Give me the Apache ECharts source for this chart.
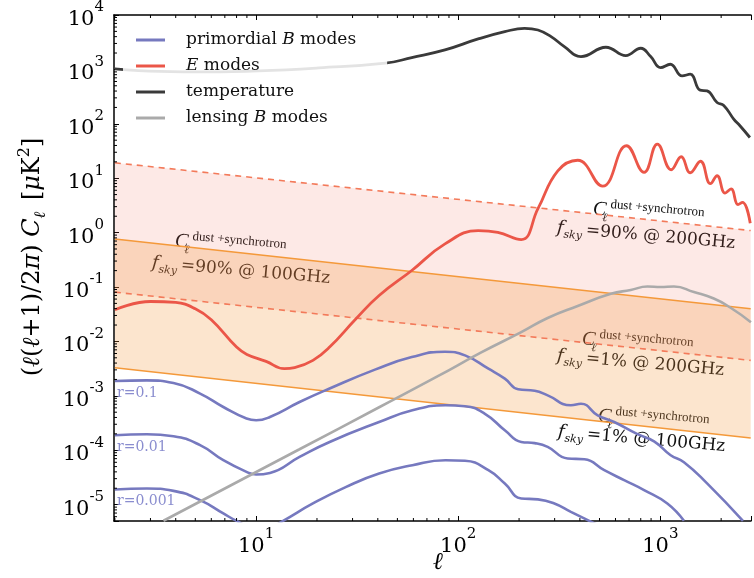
<!DOCTYPE html>
<html>
<head>
<meta charset="utf-8">
<title>CMB power spectra and foregrounds</title>
<script src="https://cdn.jsdelivr.net/npm/echarts@6/dist/echarts.min.js"></script>
<style>
html, body { margin: 0; padding: 0; background: #ffffff; }
#chart { width: 754px; height: 578px; }
</style>
</head>
<body>
<div id="chart"></div>
<script>
// ---- spectra: multipole ℓ and (ℓ(ℓ+1)/2π) C_ℓ in μK² ----
const tempEll = [2, 3.33, 5.87, 10.3, 20.4, 43.6, 58.9, 86, 125.5, 170, 213, 248, 288, 335, 405, 538, 675, 800, 896, 1003, 1120, 1282, 1406, 1575, 1704, 1909, 2060, 2308, 2478, 2775];
const tempCl  = [1021, 919, 899, 938, 1066, 1300, 1648, 2280, 3630, 4940, 5700, 5300, 4000, 2620, 1718, 2555, 1792, 2450, 1718, 1079, 1245, 760, 816, 415, 403, 246, 218, 122, 92, 56];

const eEll = [2, 3, 4, 5, 6, 8, 9, 11.2, 13.8, 15.5, 19.1, 23.1, 31.2, 40.6, 58.9, 86, 125.5, 157, 205, 248, 311, 390, 518, 680, 831, 967, 1132, 1269, 1406, 1580, 1770, 1909, 2091, 2238, 2423, 2549, 2786];
const eCl  = [0.0382, 0.0542, 0.052, 0.0398, 0.025, 0.00786, 0.00577, 0.0043, 0.00315, 0.00329, 0.00448, 0.00786, 0.0261, 0.0698, 0.201, 0.621, 1.09, 1.01, 0.744, 2.75, 13.7, 21.4, 7.13, 39.5, 12.8, 42.4, 14.3, 24.8, 12.6, 20.5, 7.93, 11.1, 5.31, 6.34, 3.27, 3.6, 1.49];

const lensEll = [3.48, 16.3, 40.4, 79.7, 130, 205, 277, 390, 569, 714, 863, 1003, 1168, 1466, 1839, 2218, 2807];
const lensCl  = [5.05e-6, 1.03e-4, 6.1e-4, 2.32e-3, 6.28e-3, 0.0148, 0.027, 0.0448, 0.075, 0.0881, 0.102, 0.1, 0.102, 0.0809, 0.0615, 0.042, 0.0226];

// primordial tensor B modes for three tensor-to-scalar ratios
const bEllR1 = [2, 2.88, 3.9, 5.28, 6.88, 8.96, 10, 11.7, 16.4, 23.1, 39, 58.9, 86, 108, 141, 170, 198, 239, 277, 361, 405, 490, 591, 771, 931, 1125, 1309, 1704, 2564];
const bClR1  = [1.87e-3, 1.92e-3, 1.72e-3, 1.1e-3, 6.23e-4, 3.82e-4, 3.55e-4, 4.08e-4, 7.69e-4, 1.36e-3, 3.06e-3, 5.15e-3, 6.47e-3, 5.53e-3, 3.15e-3, 2.07e-3, 1.32e-3, 1.24e-3, 1.02e-3, 6.7e-4, 7.13e-4, 4.39e-4, 3.3e-4, 1.97e-4, 1.46e-4, 8.1e-5, 6.03e-5, 2.45e-5, 5.04e-6];

const bEllR2 = [2, 2.88, 3.9, 5.28, 6.88, 8.96, 10, 11.7, 16.4, 23.1, 40.6, 59.3, 86.5, 108, 135, 170, 205, 239, 277, 348, 421, 528, 662, 831, 1083, 1309];
const bClR2  = [1.88e-4, 1.97e-4, 1.81e-4, 1.24e-4, 6.56e-5, 4.0e-5, 3.58e-5, 3.83e-5, 7.53e-5, 1.42e-4, 3.3e-4, 5.42e-4, 6.7e-4, 6.42e-4, 4.71e-4, 2.33e-4, 1.42e-4, 1.35e-4, 1.15e-4, 7.05e-5, 6.8e-5, 4.3e-5, 2.82e-5, 1.85e-5, 1.05e-5, 5.04e-6];

const bEllR3 = [2, 2.88, 3.9, 5.28, 6.88, 8, 10, 11.7, 13.6, 19.1, 27.9, 40.6, 59.3, 86.5, 108, 141, 170, 205, 248, 299, 361, 445, 520];
const bClR3  = [1.9e-5, 1.98e-5, 1.79e-5, 1.21e-5, 6.9e-6, 5.04e-6, 3.6e-6, 3.8e-6, 5.04e-6, 1.05e-5, 2.12e-5, 3.73e-5, 5.31e-5, 6.56e-5, 6.4e-5, 4.3e-5, 2.45e-5, 1.3e-5, 1.25e-5, 1.05e-5, 7.38e-6, 5.04e-6, 3.8e-6];

// dust + synchrotron power laws (straight in log-log), given at both ends of the ℓ range
const fgEll    = [2, 2800];
const fg90_200 = [19.2, 1.09];
const fg90_100 = [0.766, 0.0398];
const fg1_200  = [0.0804, 0.00448];
const fg1_100  = [0.00329, 1.68e-4];

const rLabels = ['r=0.1', 'r=0.01', 'r=0.001'];
const xRange = [1.98, 2810];
const yRange = [5e-6, 1e4];

// ---- styling ----
const SERIF = "'DejaVu Serif', serif";
const CM = "'Liberation Serif', 'DejaVu Serif', serif";
const C_BLUE = '#7679bf';
const C_RED = '#eb5648';
const C_DARK = '#3a3a3a';
const C_GRAY = '#aaaaaa';
const C_ORANGE = '#f4993a';
const C_DASH = '#f37a5a';

const zip = (a, b) => a.map((x, i) => [x, b[i]]);

// minor tick positions: 2..9 times each power of ten inside the ranges
function minorTicks(lo, hi) {
  const out = [];
  for (let k = Math.floor(Math.log10(lo)); k <= Math.ceil(Math.log10(hi)); k++) {
    for (let m = 2; m <= 9; m++) {
      const v = m * Math.pow(10, k);
      if (v > lo && v < hi) out.push(v);
    }
  }
  return out;
}
const xMinor = minorTicks(xRange[0], xRange[1]);
const yMinor = minorTicks(yRange[0], yRange[1]);

function decadeLabel(v) {
  const lg = Math.log10(v);
  const e = Math.round(lg);
  if (Math.abs(lg - e) > 1e-6) return '';
  return '{b|10}{s|' + e + '}';
}
const tickRich = {
  b: { fontFamily: SERIF, fontSize: 21, color: '#000', lineHeight: 30, verticalAlign: 'bottom' },
  s: { fontFamily: SERIF, fontSize: 15, color: '#000', verticalAlign: 'top' }
};

function lineSeries(name, data, color, width, extra) {
  return Object.assign({
    type: 'line', name: name, data: data, showSymbol: false, symbol: 'none',
    smooth: 0.5, color: color, lineStyle: { color: color, width: width },
    xAxisIndex: 0, yAxisIndex: 0, z: 3, silent: true, animation: false
  }, extra || {});
}

function bandSeries(upper, lower, fill) {
  return {
    type: 'custom', coordinateSystem: 'cartesian2d', xAxisIndex: 0, yAxisIndex: 0,
    data: [[fgEll[0], upper[0]]], silent: true, z: 1, animation: false, clip: true,
    renderItem: function (params, api) {
      const pts = [];
      for (let i = 0; i < fgEll.length; i++) pts.push(api.coord([fgEll[i], upper[i]]));
      for (let i = fgEll.length - 1; i >= 0; i--) pts.push(api.coord([fgEll[i], lower[i]]));
      return { type: 'polygon', shape: { points: pts }, style: { fill: fill } };
    }
  };
}

function tickSeries(values, axis) {
  return {
    type: 'custom', coordinateSystem: 'cartesian2d', xAxisIndex: 0, yAxisIndex: 0,
    data: values.map(v => axis === 'x' ? [v, yRange[0]] : [xRange[0], v]),
    silent: true, z: 6, animation: false, clip: false,
    renderItem: function (params, api) {
      const cs = params.coordSys;
      const p = api.coord([api.value(0), api.value(1)]);
      const st = { stroke: '#000', lineWidth: 1 };
      if (axis === 'x') {
        return { type: 'group', children: [
          { type: 'line', shape: { x1: p[0], y1: cs.y + cs.height, x2: p[0], y2: cs.y + cs.height - 3 }, style: st },
          { type: 'line', shape: { x1: p[0], y1: cs.y, x2: p[0], y2: cs.y + 3 }, style: st }
        ] };
      }
      return { type: 'line', shape: { x1: cs.x, y1: p[1], x2: cs.x + 3, y2: p[1] }, style: st };
    }
  };
}

// rotated two-line annotation of a foreground power law
function fgLabel(p1, p2, rest, rot) {
  return [
    { type: 'group', x: p1[0], y: p1[1], rotation: rot, z: 10, children: [
      { type: 'text', x: 0, y: 0, style: { text: 'C', fontFamily: CM, fontStyle: 'italic', fontSize: 20, fill: '#111', verticalAlign: 'middle' } },
      { type: 'text', x: 10, y: 8, style: { text: 'ℓ', fontFamily: CM, fontStyle: 'italic', fontSize: 12, fill: '#111', verticalAlign: 'middle' } },
      { type: 'text', x: 17, y: -6, style: { text: 'dust +synchrotron', fontFamily: CM, fontSize: 13, fill: '#111', verticalAlign: 'middle' } }
    ] },
    { type: 'group', x: p2[0], y: p2[1], rotation: rot, z: 10, children: [
      { type: 'text', x: 0, y: 0, style: { text: 'f', fontFamily: SERIF, fontStyle: 'italic', fontSize: 18, fill: '#111', verticalAlign: 'middle' } },
      { type: 'text', x: 7, y: 6, style: { text: 'sky', fontFamily: SERIF, fontStyle: 'italic', fontSize: 11, fill: '#111', verticalAlign: 'middle' } },
      { type: 'text', x: 29, y: 0, style: { text: rest, fontFamily: SERIF, fontSize: 17, fill: '#111', verticalAlign: 'middle' } }
    ] }
  ];
}

const ROT = -0.088;
const graphics = [].concat(
  fgLabel([175, 241], [152, 263], '=90% @ 100GHz', ROT),
  fgLabel([593, 209], [557, 228], '=90% @ 200GHz', ROT),
  fgLabel([582, 339], [557, 356], '=1% @ 200GHz', ROT),
  fgLabel([598, 416], [558, 432], '=1% @ 100GHz', ROT),
  [
    { type: 'text', x: 117, y: 393, z: 10, style: { text: rLabels[0], fontFamily: SERIF, fontSize: 14, fill: '#8a8dcf', verticalAlign: 'middle' } },
    { type: 'text', x: 117, y: 447, z: 10, style: { text: rLabels[1], fontFamily: SERIF, fontSize: 14, fill: '#8a8dcf', verticalAlign: 'middle' } },
    { type: 'text', x: 117, y: 501, z: 10, style: { text: rLabels[2], fontFamily: SERIF, fontSize: 14, fill: '#8a8dcf', verticalAlign: 'middle' } },
    // axis titles
    { type: 'text', x: 438, y: 563, z: 10, style: { text: 'ℓ', fontFamily: SERIF, fontStyle: 'italic', fontSize: 24, fill: '#000', align: 'center', verticalAlign: 'middle' } },
    { type: 'text', x: 33, y: 257, rotation: Math.PI / 2, z: 10, style: {
      text: '{n|(}{i|ℓ}{n|(}{i|ℓ}{n|+1)/2}{i|π}{n|) }{i|C}{sub|ℓ}{n| [}{i|μ}{n|K}{sup|2}{n|]}',
      align: 'center', verticalAlign: 'middle',
      rich: {
        n: { fontFamily: SERIF, fontSize: 24, color: '#000', lineHeight: 44, verticalAlign: 'middle' },
        i: { fontFamily: SERIF, fontStyle: 'italic', fontSize: 24, color: '#000', lineHeight: 44, verticalAlign: 'middle' },
        sub: { fontFamily: SERIF, fontStyle: 'italic', fontSize: 16, color: '#000', lineHeight: 16, verticalAlign: 'bottom', padding: [0, 4, 6, 0] },
        sup: { fontFamily: SERIF, fontSize: 16, color: '#000', lineHeight: 16, verticalAlign: 'top', padding: [6, 0, 0, 0] }
      }
    } }
  ]
);

const axisCommon = {
  type: 'log', logBase: 10, splitLine: { show: false },
  axisLine: { show: true, lineStyle: { color: '#000', width: 1.5 } },
  axisTick: { show: true, inside: true, length: 5, lineStyle: { color: '#000', width: 1 } }
};

const option = {
  backgroundColor: '#ffffff',
  animation: false,
  grid: { left: 114, top: 14, right: 0, bottom: 57, containLabel: false },
  xAxis: [
    Object.assign({}, axisCommon, {
      position: 'bottom', min: xRange[0], max: xRange[1], splitNumber: 5,
      axisLabel: { formatter: decadeLabel, margin: 6, rich: tickRich }
    }),
    Object.assign({}, axisCommon, {
      position: 'top', min: xRange[0], max: xRange[1], splitNumber: 5,
      axisLabel: { show: false }
    })
  ],
  yAxis: [
    Object.assign({}, axisCommon, {
      position: 'left', min: yRange[0], max: yRange[1], splitNumber: 10,
      axisLabel: { formatter: decadeLabel, margin: 10, rich: tickRich }
    })
  ],
  legend: {
    orient: 'vertical', left: 123, top: 22, z: 20,
    backgroundColor: 'rgba(255,255,255,0.86)',
    padding: [8, 31, 8, 13], itemGap: 6,
    itemWidth: 29, itemHeight: 3,
    icon: 'path://M0,0 L29,0 L29,3 L0,3 Z',
    data: ['primordial B modes', 'E modes', 'temperature', 'lensing B modes'],
    formatter: function (name) {
      if (name === 'primordial B modes') return 'primordial {i|B} modes';
      if (name === 'E modes') return '{i|E} modes';
      if (name === 'lensing B modes') return 'lensing {i|B} modes';
      return name;
    },
    textStyle: {
      fontFamily: SERIF, fontSize: 17, color: '#111', lineHeight: 20, padding: [0, 0, 0, 16],
      rich: { i: { fontFamily: SERIF, fontStyle: 'italic', fontSize: 17, color: '#111' } }
    },
    selectedMode: false
  },
  graphic: graphics,
  series: [
    bandSeries(fg90_200, fg1_200, 'rgba(240,110,90,0.15)'),
    bandSeries(fg90_100, fg1_100, 'rgba(245,150,60,0.25)'),
    lineSeries('dust 90% 200GHz', zip(fgEll, fg90_200), C_DASH, 1.6, { smooth: false, z: 2, lineStyle: { color: C_DASH, width: 1.6, type: [6, 5] } }),
    lineSeries('dust 1% 200GHz', zip(fgEll, fg1_200), C_DASH, 1.6, { smooth: false, z: 2, lineStyle: { color: C_DASH, width: 1.6, type: [6, 5] } }),
    lineSeries('dust 90% 100GHz', zip(fgEll, fg90_100), C_ORANGE, 1.5, { smooth: false, z: 2 }),
    lineSeries('dust 1% 100GHz', zip(fgEll, fg1_100), C_ORANGE, 1.5, { smooth: false, z: 2 }),
    lineSeries('primordial B modes', zip(bEllR1, bClR1), C_BLUE, 2.6),
    lineSeries('primordial B modes', zip(bEllR2, bClR2), C_BLUE, 2.6),
    lineSeries('primordial B modes', zip(bEllR3, bClR3), C_BLUE, 2.6),
    lineSeries('lensing B modes', zip(lensEll, lensCl), C_GRAY, 2.6),
    lineSeries('E modes', zip(eEll, eCl), C_RED, 2.8, { smooth: 0.45 }),
    lineSeries('temperature', zip(tempEll, tempCl), C_DARK, 2.8, { smooth: 0.45 }),
    tickSeries(xMinor, 'x'),
    tickSeries(yMinor, 'y')
  ]
};

const chart = echarts.init(document.getElementById('chart'), null, { renderer: 'canvas' });
chart.setOption(option);
</script>
</body>
</html>
